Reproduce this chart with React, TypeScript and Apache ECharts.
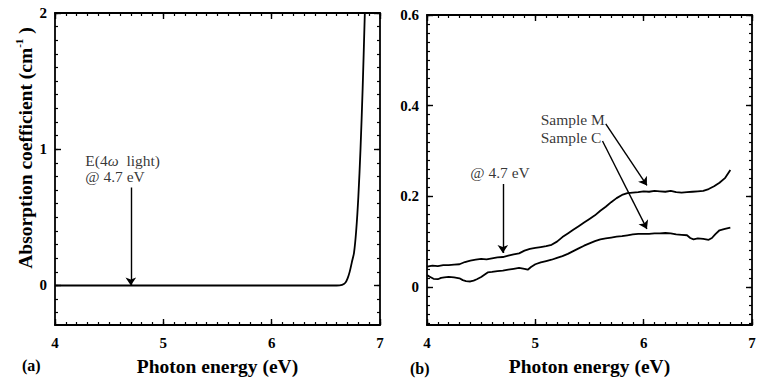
import React, { useEffect, useRef } from "react";
import * as echarts from "echarts";

// ---------- data ----------
const energyA = [4.0, 5.0, 6.0, 6.6, 6.65, 6.68, 6.7, 6.72, 6.74, 6.76, 6.78, 6.8, 6.82, 6.84, 6.86];
const absorbA = [0, 0, 0, 0, 0.005, 0.02, 0.05, 0.1, 0.17, 0.24, 0.4, 0.65, 1.0, 1.45, 2.0];

const energyM = [4.0, 4.05, 4.1, 4.15, 4.2, 4.25, 4.3, 4.35, 4.4, 4.45, 4.5, 4.55, 4.6, 4.65, 4.7, 4.75, 4.8, 4.85, 4.9, 4.95, 5.0, 5.05, 5.1, 5.15, 5.2, 5.25, 5.3, 5.35, 5.4, 5.45, 5.5, 5.55, 5.6, 5.65, 5.7, 5.75, 5.8, 5.85, 5.9, 5.95, 6.0, 6.05, 6.1, 6.15, 6.2, 6.25, 6.3, 6.35, 6.4, 6.45, 6.5, 6.55, 6.6, 6.65, 6.7, 6.75, 6.8];
const sampleM = [0.045, 0.047, 0.046, 0.048, 0.048, 0.049, 0.05, 0.055, 0.058, 0.06, 0.062, 0.061, 0.063, 0.065, 0.066, 0.069, 0.072, 0.074, 0.08, 0.084, 0.086, 0.088, 0.09, 0.093, 0.1, 0.11, 0.118, 0.126, 0.134, 0.142, 0.15, 0.158, 0.168, 0.177, 0.187, 0.196, 0.203, 0.207, 0.208, 0.209, 0.211, 0.21, 0.212, 0.211, 0.21, 0.212, 0.209, 0.208, 0.209, 0.21, 0.211, 0.212, 0.216, 0.222, 0.23, 0.24, 0.258];

const energyC = [4.0, 4.03, 4.06, 4.1, 4.13, 4.16, 4.2, 4.25, 4.3, 4.33, 4.36, 4.4, 4.43, 4.46, 4.5, 4.53, 4.56, 4.6, 4.65, 4.7, 4.75, 4.8, 4.85, 4.9, 4.93, 4.96, 5.0, 5.05, 5.1, 5.15, 5.2, 5.25, 5.3, 5.35, 5.4, 5.45, 5.5, 5.55, 5.6, 5.65, 5.7, 5.75, 5.8, 5.85, 5.9, 5.95, 6.0, 6.05, 6.1, 6.15, 6.2, 6.25, 6.3, 6.35, 6.4, 6.43, 6.46, 6.5, 6.55, 6.6, 6.63, 6.66, 6.7, 6.75, 6.8];
const sampleC = [0.026, 0.022, 0.018, 0.017, 0.02, 0.021, 0.022, 0.021, 0.019, 0.015, 0.013, 0.012, 0.014, 0.017, 0.022, 0.027, 0.032, 0.033, 0.035, 0.036, 0.038, 0.04, 0.042, 0.04, 0.038, 0.044, 0.05, 0.054, 0.057, 0.06, 0.064, 0.068, 0.073, 0.079, 0.085, 0.091, 0.096, 0.101, 0.105, 0.107, 0.109, 0.111, 0.112, 0.114, 0.116, 0.117, 0.117, 0.117, 0.118, 0.118, 0.119, 0.118, 0.116, 0.115, 0.114, 0.108, 0.105, 0.107, 0.106, 0.104, 0.108, 0.116, 0.125, 0.128, 0.131];

const xMajor = [4, 5, 6, 7];
const yMajorA = [0, 1, 2];
const yMajorB = [0, 0.2, 0.4, 0.6];

// annotations [x, y]
const arrowA = [[4.7, 0.72], [4.7, 0.0]];
const arrowB = [[4.7, 0.227], [4.7, 0.075]];
const arrowM = [[5.65, 0.36], [6.03, 0.224]];
const arrowC = [[5.62, 0.322], [6.03, 0.128]];

const range = (a: number, b: number, step: number) => {
  const out: number[] = [];
  const n = Math.round((b - a) / step);
  for (let i = 0; i <= n; i++) out.push(Math.round((a + i * step) * 1000) / 1000);
  return out;
};

const FONT = "Liberation Serif";
const BLACK = "#000";

function axesFor(
  dim: "x" | "y",
  gridIndex: number,
  min: number,
  max: number,
  major: number[],
  minor: number[],
  extra: any = {}
) {
  const sides = dim === "x" ? ["bottom", "top"] : ["left", "right"];
  const list: any[] = [];
  sides.forEach((pos, si) => {
    const base = {
      type: "value",
      gridIndex,
      min,
      max,
      position: pos,
      offset: 0,
      splitLine: { show: false },
      silent: true,
    };
    list.push({
      ...base,
      axisLine: { show: true, onZero: false, lineStyle: { color: BLACK, width: 1.8 } },
      axisTick: { show: true, inside: true, length: 6, customValues: major, lineStyle: { color: BLACK, width: 1.4 } },
      axisLabel: {
        show: si === 0,
        customValues: major,
        color: BLACK,
        fontFamily: FONT,
        fontWeight: "bold",
        fontSize: 15,
        margin: dim === "x" ? 10 : 8,
      },
      ...(si === 0 ? extra : {}),
    });
    list.push({
      ...base,
      axisLine: { show: false, onZero: false },
      axisTick: { show: true, inside: true, length: 3, customValues: minor, lineStyle: { color: BLACK, width: 1.2 } },
      axisLabel: { show: false },
    });
  });
  return list;
}

export default function App() {
  const ref = useRef<HTMLDivElement>(null);
  useEffect(() => {
    document.body.style.margin = "0";
    if (!ref.current) return;
    const chart = echarts.init(ref.current, null, { renderer: "svg" });

    const xName = {
      name: "Photon energy (eV)",
      nameLocation: "middle",
      nameGap: 31,
      nameTextStyle: { fontFamily: FONT, fontWeight: "bold", fontSize: 19.5, color: BLACK },
    };
    const yNameA = {
      name: "{a|Absorption coefficient (cm}{s|-1}{a| )}",
      nameLocation: "middle",
      nameGap: 19,
      nameRotate: 90,
      nameTextStyle: {
        color: BLACK,
        padding: [0, 0, 0, 42],
        rich: {
          a: { fontFamily: FONT, fontWeight: "bold", fontSize: 19.5, color: BLACK, lineHeight: 22, verticalAlign: "bottom" },
          s: { fontFamily: FONT, fontWeight: "bold", fontSize: 11, color: BLACK, lineHeight: 22, verticalAlign: "top", padding: [0, 0, 10, 0] },
        },
      },
    };

    const xAxes = [
      ...axesFor("x", 0, 4, 7, xMajor, range(4, 7, 0.1), xName),
      ...axesFor("x", 1, 4, 7, xMajor, range(4, 7, 0.1), xName),
    ];
    const yAxes = [
      ...axesFor("y", 0, -0.29, 2, yMajorA, range(-0.2, 2, 0.1), yNameA),
      ...axesFor("y", 1, -0.084, 0.6, yMajorB, range(-0.08, 0.6, 0.02), {
        axisLabel: {
          customValues: yMajorB,
          color: BLACK,
          fontFamily: FONT,
          fontWeight: "bold",
          fontSize: 15,
          margin: 8,
          formatter: (v: number) => (v === 0 ? "0" : String(v)),
        },
      }),
    ];

    const lineStyle = { color: BLACK, width: 1.8 };
    const annoLabel = (text: string, rich?: any) => ({
      show: true,
      position: [0, 0],
      align: "left",
      verticalAlign: "middle",
      formatter: text,
      color: BLACK,
      fontFamily: FONT,
      fontSize: 15.5,
      ...(rich ? { rich } : {}),
    });
    const textPoint = (xi: number, yi: number, x: number, y: number, label: any) => ({
      type: "scatter",
      xAxisIndex: xi,
      yAxisIndex: yi,
      symbolSize: 0,
      silent: true,
      data: [{ value: [x, y], label }],
    });
    const arrow = (xi: number, yi: number, pts: number[][]) => ({
      type: "lines",
      coordinateSystem: "cartesian2d",
      xAxisIndex: xi,
      yAxisIndex: yi,
      symbol: ["none", "arrow"],
      symbolSize: 8,
      silent: true,
      lineStyle: { color: BLACK, width: 1.4, opacity: 1 },
      data: [{ coords: pts }],
    });

    const richW = {
      n: { fontFamily: FONT, fontSize: 15.5, color: BLACK },
      i: { fontFamily: FONT, fontSize: 15.5, fontStyle: "italic", color: BLACK },
    };

    chart.setOption({
      animation: false,
      backgroundColor: "#fff",
      grid: [
        { left: 55, top: 13, width: 325, height: 312 },
        { left: 427, top: 15, width: 325, height: 310 },
      ],
      xAxis: xAxes,
      yAxis: yAxes,
      series: [
        {
          type: "line",
          xAxisIndex: 0,
          yAxisIndex: 0,
          showSymbol: false,
          smooth: 0.3,
          lineStyle,
          data: energyA.map((x, i) => [x, absorbA[i]]),
        },
        {
          type: "line",
          xAxisIndex: 4,
          yAxisIndex: 4,
          showSymbol: false,
          lineStyle,
          data: energyM.map((x, i) => [x, sampleM[i]]),
        },
        {
          type: "line",
          xAxisIndex: 4,
          yAxisIndex: 4,
          showSymbol: false,
          lineStyle,
          data: energyC.map((x, i) => [x, sampleC[i]]),
        },
        arrow(0, 0, arrowA),
        arrow(4, 4, arrowB),
        arrow(4, 4, arrowM),
        arrow(4, 4, arrowC),
        textPoint(0, 0, 4.28, 0.92, annoLabel("{n|E(4}{i|ω}{n|  light)}", richW)),
        textPoint(0, 0, 4.28, 0.8, annoLabel("@ 4.7 eV")),
        textPoint(4, 4, 4.4, 0.252, annoLabel("@ 4.7 eV")),
        textPoint(4, 4, 5.05, 0.37, annoLabel("Sample M")),
        textPoint(4, 4, 5.05, 0.33, annoLabel("Sample C")),
      ],
      graphic: [
        { type: "text", left: 22, top: 357, style: { text: "(a)", font: `bold 16px "${FONT}"`, fill: BLACK } },
        { type: "text", left: 410, top: 360, style: { text: "(b)", font: `bold 16px "${FONT}"`, fill: BLACK } },
      ],
    });
    return () => chart.dispose();
  }, []);
  return <div ref={ref} style={{ width: 768, height: 383 }} />;
}
